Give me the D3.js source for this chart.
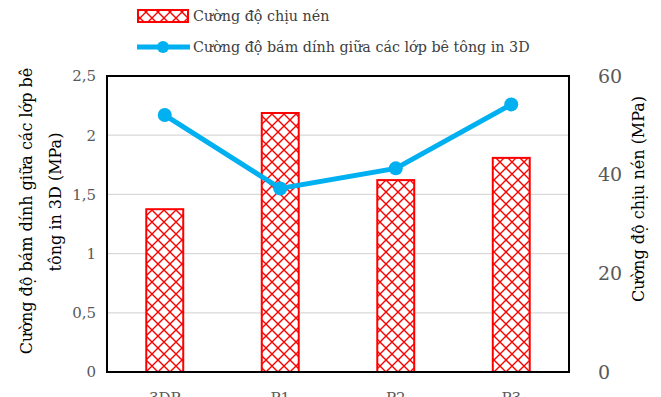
<!DOCTYPE html>
<html>
<head>
<meta charset="utf-8">
<title>Cường độ</title>
<script src="https://d3js.org/d3.v7.min.js"></script>
<style>
	body { margin: 0; background: #fff; }
	svg text { font-family: "DejaVu Serif", serif; }
</style>
</head>
<body>
<svg id="chart" width="661" height="397"></svg>
<script>
	// data
	var categories = ["3DP", "P1", "P2", "P3"]
	var nenValues = [33.0, 52.5, 38.9, 43.4]        // Cường độ chịu nén (MPa), right axis
	var bamDinhValues = [2.17, 1.55, 1.72, 2.26]    // Cường độ bám dính (MPa), left axis
	var leftTicks = [0, 0.5, 1, 1.5, 2, 2.5]
	var rightTicks = [0, 20, 40, 60]

	var svg = d3.select("#chart")
	var plot = { left: 107, right: 569, top: 76, bottom: 372 }
	var red = "#ff0000", blue = "#00b0f0", grey = "#595959"

	var x = d3.scaleBand().domain(categories).range([plot.left, plot.right])
		.paddingInner(0.68).paddingOuter(0.34)
	var yL = d3.scaleLinear().domain([0, 2.5]).range([plot.bottom, plot.top])
	var yR = d3.scaleLinear().domain([0, 60]).range([plot.bottom, plot.top])

	// diamond hatch pattern
	var defs = svg.append("defs")
	var pat = defs.append("pattern").attr("id", "diamond")
		.attr("patternUnits", "userSpaceOnUse").attr("width", 12).attr("height", 12)
		.attr("x", 2).attr("y", 0)
	pat.append("rect").attr("width", 12).attr("height", 12).attr("fill", "#fff")
	pat.append("path").attr("d", "M0,0L12,12M12,0L0,12")
		.attr("stroke", red).attr("stroke-width", 1.4).attr("fill", "none")

	// gridlines
	svg.append("g").selectAll("line").data(leftTicks.slice(1, -1)).enter().append("line")
		.attr("x1", plot.left).attr("x2", plot.right)
		.attr("y1", function (d) { return yL(d) }).attr("y2", function (d) { return yL(d) })
		.attr("stroke", "#d9d9d9").attr("stroke-width", 1.3)

	// bars
	svg.append("g").selectAll("rect").data(categories).enter().append("rect")
		.attr("x", function (d) { return x(d) })
		.attr("width", x.bandwidth())
		.attr("y", function (d, i) { return yR(nenValues[i]) })
		.attr("height", function (d, i) { return plot.bottom - yR(nenValues[i]) })
		.attr("fill", "url(#diamond)").attr("stroke", red).attr("stroke-width", 2)

	// plot border
	svg.append("rect").attr("x", plot.left).attr("y", plot.top)
		.attr("width", plot.right - plot.left).attr("height", plot.bottom - plot.top)
		.attr("fill", "none").attr("stroke", "#000").attr("stroke-width", 2)

	// line
	var line = d3.line()
		.x(function (d, i) { return x(categories[i]) + x.bandwidth() / 2 })
		.y(function (d) { return yL(d) })
	svg.append("path").datum(bamDinhValues).attr("d", line)
		.attr("fill", "none").attr("stroke", blue).attr("stroke-width", 5)
	svg.append("g").selectAll("circle").data(bamDinhValues).enter().append("circle")
		.attr("cx", function (d, i) { return x(categories[i]) + x.bandwidth() / 2 })
		.attr("cy", function (d) { return yL(d) })
		.attr("r", 7).attr("fill", blue)

	// axes
	var fmt = function (d) { return String(d).replace(".", ",") }
	var axL = svg.append("g").attr("transform", "translate(" + (plot.left - 8) + ",0)")
		.call(d3.axisLeft(yL).tickValues(leftTicks).tickFormat(fmt).tickSize(0))
	var axR = svg.append("g").attr("transform", "translate(" + (plot.right + 26) + ",0)")
		.call(d3.axisRight(yR).tickValues(rightTicks).tickSize(0))
	var axB = svg.append("g").attr("transform", "translate(0," + (plot.bottom + 17) + ")")
		.call(d3.axisBottom(x).tickSize(0))
	axL.select(".domain").remove()
	axR.select(".domain").remove()
	axB.select(".domain").remove()
	axL.selectAll("text").attr("font-size", 15).attr("fill", grey).attr("font-family", "DejaVu Serif")
	axR.selectAll("text").attr("font-size", 19).attr("fill", grey).attr("font-family", "DejaVu Serif")
	axB.selectAll("text").attr("font-size", 15).attr("fill", grey).attr("font-family", "DejaVu Serif")

	// axis titles
	svg.append("text").attr("transform", "translate(32,211) rotate(-90)")
		.attr("text-anchor", "middle").attr("font-size", 16).attr("fill", "#000")
		.text("Cường độ bám dính giữa các lớp bê")
	svg.append("text").attr("transform", "translate(61,202) rotate(-90)")
		.attr("text-anchor", "middle").attr("font-size", 16).attr("fill", "#000")
		.text("tông in 3D (MPa)")
	svg.append("text").attr("transform", "translate(644,199) rotate(-90)")
		.attr("text-anchor", "middle").attr("font-size", 16).attr("fill", "#000")
		.text("Cường độ chịu nén (MPa)")

	// legend
	var lg = svg.append("g")
	lg.append("rect").attr("x", 138).attr("y", 10).attr("width", 50).attr("height", 12)
		.attr("fill", "url(#diamond)").attr("stroke", red).attr("stroke-width", 2)
	lg.append("text").attr("x", 193).attr("y", 21).attr("font-size", 14.3).attr("fill", "#404040")
		.text("Cường độ chịu nén")
	lg.append("line").attr("x1", 137).attr("x2", 190).attr("y1", 47).attr("y2", 47)
		.attr("stroke", blue).attr("stroke-width", 5)
	lg.append("circle").attr("cx", 163).attr("cy", 47).attr("r", 6).attr("fill", blue)
	lg.append("text").attr("x", 193).attr("y", 52).attr("font-size", 14.3).attr("fill", "#404040")
		.text("Cường độ bám dính giữa các lớp bê tông in 3D")
</script>
</body>
</html>
